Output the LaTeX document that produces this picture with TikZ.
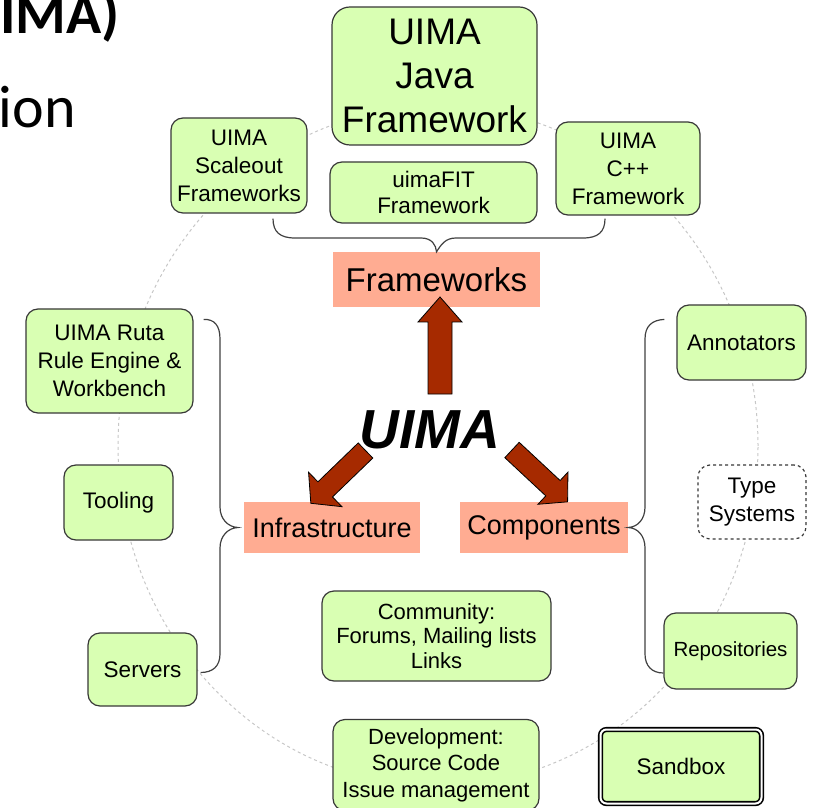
\documentclass[tikz,border=0pt]{standalone}
\usepackage{fontspec}
\setmainfont{Liberation Sans}
\newfontfamily\slidefont{Carlito}
\usetikzlibrary{positioning, calc}

\definecolor{boxgreen}{RGB}{217,255,179}
\definecolor{boxsalmon}{RGB}{255,172,146}
\definecolor{arrowred}{RGB}{166,42,0}

\begin{document}
\begin{tikzpicture}
    [x=1pt, y=1pt,
    greennode/.style={rectangle, rounded corners=12pt, draw=black!78, line width=1.2pt, fill=boxgreen, align=center, inner sep=0pt, font=\fontsize{22.5}{28}\selectfont},
    catnode/.style={rectangle, fill=boxsalmon, inner sep=0pt, font=\fontsize{27}{32}\selectfont},
    blockarrow/.style={fill=arrowred, draw=black, line width=0.8pt},
    bracket/.style={draw=black!75, line width=1.2pt},
    ring/.style={draw=black!22, dashed, line width=1pt},]

    \useasboundingbox (0,0) rectangle (821,807);

    %Ring
    \draw[ring] (438,361) ellipse [x radius=320, y radius=340];

    %Slide title
    \node[anchor=base east, inner sep=0pt, font=\slidefont\bfseries\fontsize{58}{60}\selectfont](title) at (120,773){IMA)};
    \node[anchor=base east, inner sep=0pt, font=\slidefont\fontsize{60}{62}\selectfont](sub) at (76,679){ion};

    %Nodes
    \node[greennode, rounded corners=18pt, minimum width=205, minimum height=138, font=\fontsize{37}{44}\selectfont](java) at (434.5,731){UIMA\\Java\\Framework};
    \node[greennode, minimum width=136, minimum height=95](scaleout) at (239,641.5){UIMA\\Scaleout\\Frameworks};
    \node[greennode, minimum width=207, minimum height=61, font=\fontsize{22.5}{26}\selectfont](fit) at (433.5,614.5){uimaFIT\\Framework};
    \node[greennode, minimum width=144, minimum height=93](cpp) at (628,638.5){UIMA\\C++\\Framework};

    \node[catnode, minimum width=207, minimum height=55, font=\fontsize{33}{36}\selectfont](fw) at (436.5,527.5){Frameworks};
    \node[catnode, minimum width=176, minimum height=51](infra) at (332,279.5){Infrastructure};
    \node[catnode, minimum width=168, minimum height=51](comp) at (544,279.5){Components};

    \node[inner sep=0pt, anchor=base, font=\bfseries\itshape\fontsize{55}{60}\selectfont](uima) at (430,359){UIMA};

    \node[greennode, minimum width=167, minimum height=104](ruta) at (109.5,446){UIMA Ruta\\Rule Engine \&\\Workbench};
    \node[greennode, minimum width=109, minimum height=75](tooling) at (118.5,304.5){Tooling};
    \node[greennode, minimum width=109, minimum height=73](servers) at (142.5,137.5){Servers};

    \node[greennode, minimum width=129, minimum height=75](annot) at (741.5,464.5){Annotators};
    \node[greennode, fill=white, dashed, minimum width=108, minimum height=74](types) at (752,305){Type\\Systems};
    \node[greennode, minimum width=133, minimum height=76, font=\fontsize{20.5}{26}\selectfont](repos) at (730.5,156){Repositories};

    \node[greennode, minimum width=229, minimum height=90, font=\fontsize{22}{24.5}\selectfont](comm) at (436.5,171){Community:\\Forums, Mailing lists\\Links};
    \node[greennode, minimum width=206, minimum height=91, font=\fontsize{22}{26.5}\selectfont](devel) at (436,42){Development:\\Source Code\\Issue management};
    \node[greennode, rounded corners=6pt, draw=black, line width=1.6pt, double=white, double distance=2pt, minimum width=161, minimum height=74](sandbox) at (681,40.5){Sandbox};

    %Lines
    \coordinate (fwL) at ($(scaleout.south)+(34,-5)$);
    \coordinate (fwR) at ($(cpp.south)+(-23,-3)$);
    \coordinate (infT) at ($(ruta.north east)+(10,-11)$);
    \coordinate (infB) at ($(servers.east)+(3,-3)$);
    \coordinate (cmpT) at ($(annot.north west)+(-12,-15)$);
    \coordinate (cmpB) at ($(repos.west)+(0,-22)$);

    \draw[bracket](fwL) .. controls (273,575) and (280,569) .. (295,569) -- (421,569)
        .. controls (432,569) and (436,562) .. (fw.north)
        .. controls (441,562) and (445,569) .. (456,569) -- (583,569)
        .. controls (598,569) and (605,575) .. (fwR);
    \draw[bracket](infT) .. controls (214,488) and (220,482) .. (220,468) -- (220,300)
        .. controls (220,288) and (228,280) .. ($(infra.west)+(-6,0)$)
        .. controls (228,279) and (220,271) .. (220,259) -- (220,153)
        .. controls (220,141) and (213,134.5) .. (infB);
    \draw[bracket](cmpT) .. controls (652,487) and (645,481) .. (645,468) -- (645,300)
        .. controls (645,288) and (638,280) .. (comp.east)
        .. controls (638,279) and (645,271) .. (645,259) -- (645,153)
        .. controls (645,141) and (652,134) .. (cmpB);

    %Arrows
    \draw[blockarrow, shift={(440,413)}, rotate=90](0,-12) -- (72,-12) -- (72,-22) -- (97,0) -- (72,22) -- (72,12) -- (0,12) -- cycle;
    \draw[blockarrow, shift={(365.5,356.5)}, rotate=-136](0,-10.5) -- (56,-10.5) -- (56,-24) -- (76,0) -- (56,24) -- (56,10.5) -- (0,10.5) -- cycle;
    \draw[blockarrow, shift={(512,357)}, rotate=-43](0,-10.5) -- (56,-10.5) -- (56,-22) -- (76,0) -- (56,22) -- (56,10.5) -- (0,10.5) -- cycle;
\end{tikzpicture}
\end{document}
